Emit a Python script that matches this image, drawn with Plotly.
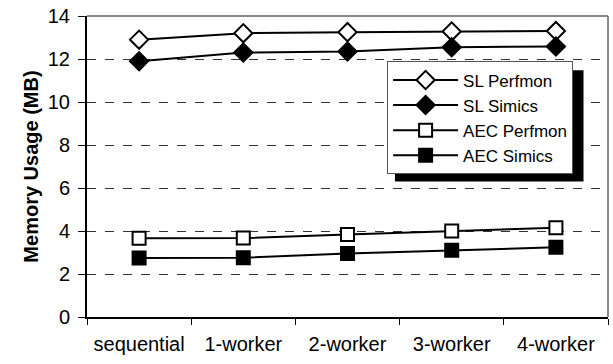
import plotly.graph_objects as go

categories = ["sequential", "1-worker", "2-worker", "3-worker", "4-worker"]
sl_perfmon = [12.9, 13.2, 13.25, 13.28, 13.3]
sl_simics = [11.9, 12.3, 12.35, 12.55, 12.58]
aec_perfmon = [3.66, 3.67, 3.84, 4.0, 4.15]
aec_simics = [2.75, 2.76, 2.95, 3.1, 3.24]

FONT = "Arial"

series = [
    ("SL Perfmon", sl_perfmon, "diamond", "white", 14),
    ("SL Simics", sl_simics, "diamond", "black", 14),
    ("AEC Perfmon", aec_perfmon, "square", "white", 13),
    ("AEC Simics", aec_simics, "square", "black", 13),
]

fig = go.Figure()
for name, vals, sym, fill, size in series:
    fig.add_trace(go.Scatter(
        x=categories, y=vals, name=name, mode="lines+markers",
        line=dict(color="black", width=2),
        marker=dict(symbol=sym, size=size, color=fill,
                    line=dict(color="black", width=2)),
    ))

# legend drop shadow
fig.add_shape(type="rect", xref="paper", yref="paper",
              x0=0.591, x1=0.953, y0=0.45, y1=0.82,
              fillcolor="black", line=dict(width=0), layer="above")

fig.update_layout(
    width=613, height=364,
    margin=dict(l=87, r=5, t=13, b=47),
    paper_bgcolor="white", plot_bgcolor="white",
    font=dict(family=FONT, size=20, color="black"),
    showlegend=True,
    legend=dict(x=0.576, y=0.849, xanchor="left", yanchor="top",
                bgcolor="white", bordercolor="#555555", borderwidth=1,
                font=dict(size=17), itemwidth=65, tracegroupgap=0),
    xaxis=dict(
        type="category", range=[-0.5, 4.5], tickson="boundaries",
        ticks="outside", ticklen=6, tickcolor="black",
        showline=True, linecolor="black", linewidth=2,
        showgrid=False, mirror=False, tickfont=dict(size=20),
        ticklabelstandoff=8,
    ),
    yaxis=dict(
        range=[0, 14], dtick=2, ticks="outside", ticklen=7,
        tickcolor="black", showline=True, linecolor="black", linewidth=2,
        showgrid=True, gridcolor="#333333", griddash="dash", gridwidth=1,
        zeroline=False, tickfont=dict(size=20), ticklabelstandoff=4,
        title=dict(text="<b>Memory Usage (MB)</b>", font=dict(size=20),
                   standoff=4),
    ),
)

# gray frame along the top and right of the plot area
fig.add_shape(type="line", xref="paper", yref="paper", x0=0, x1=1, y0=1, y1=1,
              line=dict(color="#888888", width=2))
fig.add_shape(type="line", xref="paper", yref="paper", x0=1, x1=1, y0=0, y1=1,
              line=dict(color="#888888", width=2))

fig.write_html("out.html")
